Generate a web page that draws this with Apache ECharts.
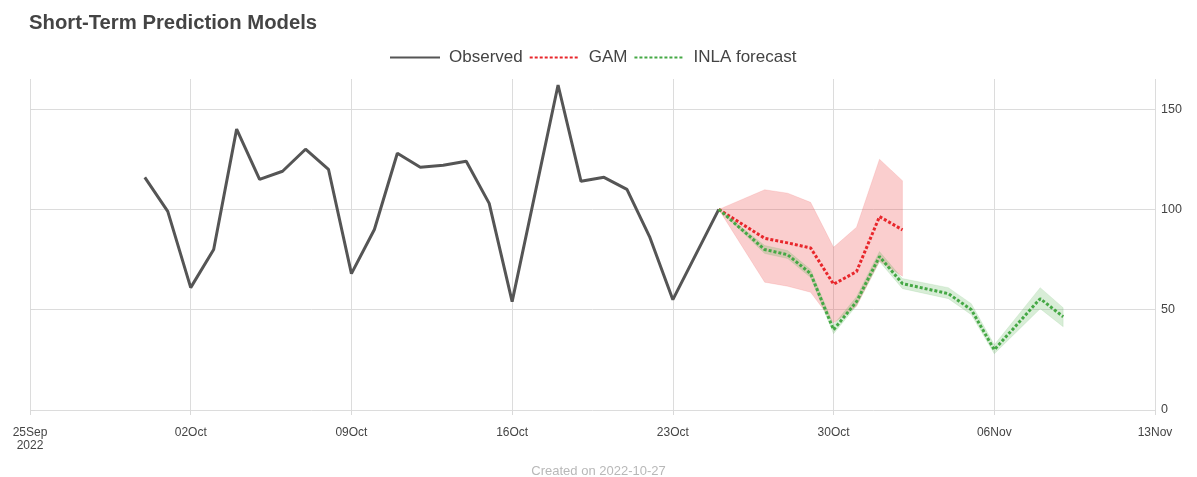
<!DOCTYPE html>
<html>
<head>
<meta charset="utf-8">
<script src="https://cdn.jsdelivr.net/npm/echarts@6/dist/echarts.min.js"></script>
<style>
  html, body { margin: 0; padding: 0; background: #fff; }
  #chart { width: 1197px; height: 477px; }
</style>
</head>
<body>
<div id="chart"></div>
<script>
// ---- Data ----
const observedDates = ["2022-09-30","2022-10-01","2022-10-02","2022-10-03","2022-10-04","2022-10-05","2022-10-06","2022-10-07","2022-10-08","2022-10-09","2022-10-10","2022-10-11","2022-10-12","2022-10-13","2022-10-14","2022-10-15","2022-10-16","2022-10-18","2022-10-19","2022-10-20","2022-10-21","2022-10-22","2022-10-23","2022-10-25"];
const observedValues = [116, 99, 61, 80, 140, 115, 119, 130, 120, 68, 90, 128, 121, 122, 124, 103, 54, 162, 114, 116, 110, 86, 55, 100];

const gamDates = ["2022-10-25","2022-10-27","2022-10-28","2022-10-29","2022-10-30","2022-10-31","2022-11-01","2022-11-02"];
const gamValues = [100, 85.6, 83.3, 80.8, 62.7, 69, 96.4, 89.8];
const gamLower  = [100, 63.7, 61.7, 58.7, 43.4, 51.7, 74.1, 66.7];
const gamUpper  = [100, 109.8, 108.1, 103.5, 81.1, 91.1, 125, 114.3];

const inlaDates = ["2022-10-25","2022-10-27","2022-10-28","2022-10-29","2022-10-30","2022-10-31","2022-11-01","2022-11-02","2022-11-04","2022-11-05","2022-11-06","2022-11-08","2022-11-09"];
const inlaValues = [100, 80, 77.4, 68, 40, 54, 76.5, 63, 58, 50, 30, 55.5, 46.5];
const inlaLower  = [100, 78, 75.5, 66, 38, 52, 74, 60.5, 55.5, 47.5, 28, 50.5, 41.5];
const inlaUpper  = [100, 82, 79.5, 70, 42.5, 56.5, 79, 65.5, 61, 53, 32.5, 61, 51];

const xStart = "2022-09-25";
const xEnd = "2022-11-13";
const yTicks = [0, 50, 100, 150];
const monthNames = ["Jan","Feb","Mar","Apr","May","Jun","Jul","Aug","Sep","Oct","Nov","Dec"];

// ---- Helpers ----
const DAY = 86400000;
function toMs(s) { const p = s.split("-").map(Number); return Date.UTC(p[0], p[1] - 1, p[2]); }
const baseMs = toMs(xStart);
function dayOff(s) { return Math.round((toMs(s) - baseMs) / DAY); }
function pairs(dates, vals) { return dates.map((d, i) => [dayOff(d), vals[i]]); }
function band(dates, lo, hi) { return dates.map((d, i) => [dayOff(d), lo[i], hi[i]]); }

function ribbonSeries(name, dates, lo, hi, color) {
  const data = band(dates, lo, hi);
  return {
    name: name,
    type: 'custom',
    z: 1,
    silent: true,
    encode: { x: 0, y: [1, 2] },
    data: data,
    renderItem: function (params, api) {
      if (params.dataIndex !== 0) return null;
      const pts = [];
      for (let i = 0; i < data.length; i++) pts.push(api.coord([data[i][0], data[i][2]]));
      for (let i = data.length - 1; i >= 0; i--) pts.push(api.coord([data[i][0], data[i][1]]));
      return { type: 'polygon', shape: { points: pts }, style: { fill: color, stroke: color, lineWidth: 0.5 } };
    }
  };
}

const FONT = 'Liberation Sans, Arial, sans-serif';
const chart = echarts.init(document.getElementById('chart'));
const option = {
  animation: false,
  backgroundColor: '#ffffff',
  title: [
    {
      text: 'Short-Term Prediction Models',
      left: 24, top: 8,
      textStyle: { fontFamily: FONT, fontSize: 20.3, fontWeight: 'bold', color: '#444444' }
    },
    {
      text: 'Created on 2022-10-27',
      left: 'center', top: 460,
      textStyle: { fontFamily: FONT, fontSize: 13, fontWeight: 'normal', color: '#b8b8b8' }
    }
  ],
  legend: {
    data: ['Observed', 'GAM', 'INLA forecast'],
    top: 44,
    left: 384,
    itemWidth: 50,
    itemHeight: 14,
    itemGap: 6,
    itemStyle: { opacity: 0 },
    textStyle: { fontFamily: FONT, fontSize: 17, color: '#444444', padding: [0, 0, 0, 4] }
  },
  grid: { left: 30, right: 42, top: 79, bottom: 67 },
  xAxis: {
    type: 'value',
    min: 0,
    max: dayOff(xEnd),
    interval: 7,
    axisLine: { show: false },
    axisTick: { show: true, length: 5, lineStyle: { color: '#d9d9d9' } },
    splitLine: { show: true, lineStyle: { color: '#dcdcdc', width: 1 } },
    axisLabel: {
      margin: 16,
      color: '#444444',
      fontFamily: FONT,
      fontSize: 12,
      lineHeight: 13,
      showMinLabel: true,
      showMaxLabel: true,
      formatter: function (v) {
        const d = new Date(baseMs + v * DAY);
        const dd = String(d.getUTCDate()).padStart(2, '0');
        let s = dd + monthNames[d.getUTCMonth()];
        if (v === 0) s += '\n' + d.getUTCFullYear();
        return s;
      }
    }
  },
  yAxis: {
    type: 'value',
    position: 'right',
    min: yTicks[0],
    max: 165,
    interval: yTicks[1] - yTicks[0],
    axisLine: { show: false },
    axisTick: { show: true, length: 5, lineStyle: { color: '#d9d9d9' } },
    splitLine: { show: true, showMaxLine: false, lineStyle: { color: '#dcdcdc', width: 1 } },
    axisLabel: {
      margin: 6,
      color: '#444444',
      fontFamily: FONT,
      fontSize: 12.5,
      showMaxLabel: false,
      formatter: function (v) { return yTicks.indexOf(v) >= 0 ? String(v) : ''; }
    }
  },
  series: [
    ribbonSeries('GAM band', gamDates, gamLower, gamUpper, 'rgba(236, 60, 60, 0.25)'),
    ribbonSeries('INLA band', inlaDates, inlaLower, inlaUpper, 'rgba(77, 175, 74, 0.22)'),
    {
      name: 'Observed',
      type: 'line',
      z: 3,
      symbol: 'none',
      data: pairs(observedDates, observedValues),
      lineStyle: { color: '#555555', width: 3 },
      itemStyle: { color: '#555555' }
    },
    {
      name: 'GAM',
      type: 'line',
      z: 4,
      symbol: 'none',
      data: pairs(gamDates, gamValues),
      lineStyle: { color: '#e8262b', width: 3, type: [3, 2] },
      itemStyle: { color: '#e8262b' }
    },
    {
      name: 'INLA forecast',
      type: 'line',
      z: 5,
      symbol: 'none',
      data: pairs(inlaDates, inlaValues),
      lineStyle: { color: '#45a845', width: 3, type: [3, 2] },
      itemStyle: { color: '#45a845' }
    }
  ]
};
chart.setOption(option);
</script>
</body>
</html>
